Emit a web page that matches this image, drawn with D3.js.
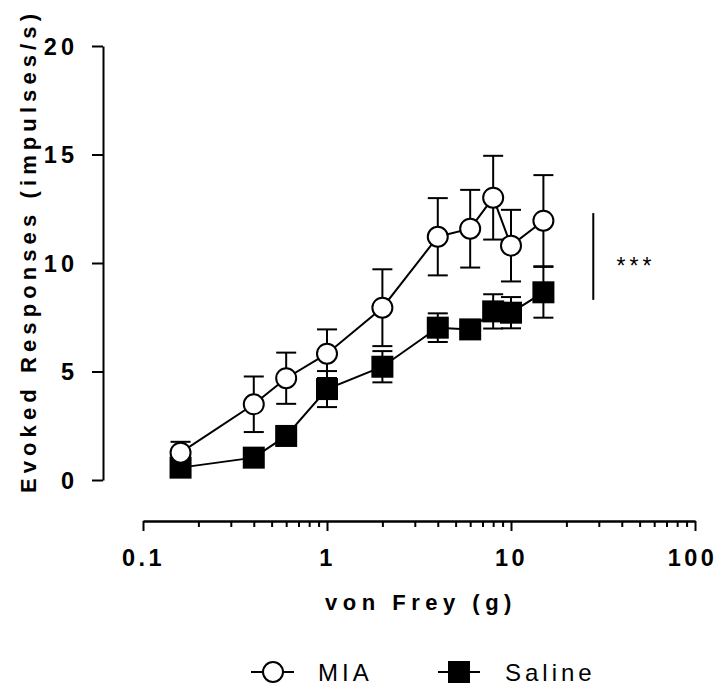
<!DOCTYPE html>
<html>
<head>
<meta charset="utf-8">
<script src="https://cdn.jsdelivr.net/npm/d3@7"></script>
<style>
  html, body { margin: 0; padding: 0; background: #fff; }
  svg { display: block; font-family: "Liberation Sans", Arial, Helvetica, sans-serif; }
</style>
</head>
<body>
<svg id="chart" width="722" height="686"></svg>
<script>
// ---- data ----
const forces = [0.16, 0.4, 0.6, 1, 2, 4, 6, 8, 10, 15];           // von Frey (g)
const miaMean = [1.26, 3.49, 4.69, 5.82, 7.94, 11.21, 11.58, 13.01, 10.80, 11.95];
const miaSem  = [0.50, 1.28, 1.18, 1.12, 1.77, 1.78, 1.79, 1.93, 1.65, 2.10];
const salMean = [0.57, 1.03, 2.03, 4.19, 5.22, 7.02, 6.94, 7.77, 7.71, 8.65];
const salSem  = [0.20, 0.30, 0.30, 0.83, 0.72, 0.66, 0.40, 0.79, 0.72, 1.17];
const yTicks = [0, 5, 10, 15, 20];
const xMajorTicks = [0.1, 1, 10, 100];
const xTickLabels = ["0.1", "1", "10", "100"];
const seriesNames = ["MIA", "Saline"];
const sigBracket = { x: 28, y0: 8.3, y1: 12.3, label: "***", labelX: 46 };

// ---- scales ----
const svg = d3.select("#chart");
const x = d3.scaleLog().domain([0.1, 100]).range([143, 695]);
const y = d3.scaleLinear().domain([0, 20]).range([480, 46]);
const xAxisY = 521, yAxisX = 103;

// ---- y axis ----
const ls = 4;
const gy = svg.append("g").attr("transform", `translate(${yAxisX},0)`)
  .call(d3.axisLeft(y).tickValues(yTicks).tickSize(11).tickSizeOuter(0).tickPadding(18 - ls));
gy.select(".domain").attr("stroke", "#000").attr("stroke-width", 2);
gy.selectAll(".tick line").attr("stroke", "#000").attr("stroke-width", 2);
gy.selectAll(".tick text").attr("font-size", 23.5).attr("font-weight", "bold")
  .attr("letter-spacing", ls + "px").attr("fill", "#000").attr("dy", "0.36em")
  .attr("font-family", "Liberation Sans, Arial, sans-serif");

// ---- x axis ----
const minor = [];
[0.1, 1, 10].forEach(d => { for (let k = 2; k <= 9; k++) minor.push(+(d * k).toPrecision(3)); });
const gxm = svg.append("g").attr("transform", `translate(0,${xAxisY})`)
  .call(d3.axisBottom(x).tickValues(minor).tickSize(6).tickSizeOuter(0).tickFormat(""));
gxm.select(".domain").attr("stroke", "#000").attr("stroke-width", 2);
gxm.selectAll(".tick line").attr("stroke", "#000").attr("stroke-width", 2);
const gx = svg.append("g").attr("transform", `translate(0,${xAxisY})`)
  .call(d3.axisBottom(x).tickValues(xMajorTicks).tickSize(10).tickSizeOuter(0)
    .tickFormat((d, i) => xTickLabels[i]).tickPadding(18));
gx.select(".domain").attr("stroke", "#000").attr("stroke-width", 2);
gx.selectAll(".tick line").attr("stroke", "#000").attr("stroke-width", 2);
gx.selectAll(".tick text").attr("font-size", 23.5).attr("font-weight", "bold")
  .attr("letter-spacing", "3.5px").attr("fill", "#000")
  .attr("font-family", "Liberation Sans, Arial, sans-serif");
// keep the last label inside the frame, as in the reference
gx.selectAll(".tick text").filter((d, i) => i === xTickLabels.length - 1).attr("dx", "-3px");

// ---- axis titles ----
svg.append("text").attr("x", 421).attr("y", 610).attr("text-anchor", "middle")
  .attr("font-size", 22).attr("font-weight", "bold").attr("letter-spacing", "5.5px")
  .text("von Frey (g)");
svg.append("text").attr("transform", "translate(36,251) rotate(-90)").attr("text-anchor", "middle")
  .attr("font-size", 22).attr("font-weight", "bold").attr("letter-spacing", "5.1px")
  .text("Evoked Responses (impulses/s)");

// ---- series ----
function drawSeries(means, sems, kind) {
  const g = svg.append("g");
  const pts = forces.map((f, i) => ({ f, m: means[i], s: sems[i] }));
  g.append("path").datum(pts)
    .attr("d", d3.line().x(d => x(d.f)).y(d => y(d.m)))
    .attr("fill", "none").attr("stroke", "#000").attr("stroke-width", 2);
  const eb = g.selectAll(".eb").data(pts).enter().append("g");
  eb.append("line").attr("x1", d => x(d.f)).attr("x2", d => x(d.f))
    .attr("y1", d => y(d.m - d.s)).attr("y2", d => y(d.m + d.s))
    .attr("stroke", "#000").attr("stroke-width", 2);
  [1, -1].forEach(sgn => {
    eb.append("line").attr("x1", d => x(d.f) - 10).attr("x2", d => x(d.f) + 10)
      .attr("y1", d => y(d.m + sgn * d.s)).attr("y2", d => y(d.m + sgn * d.s))
      .attr("stroke", "#000").attr("stroke-width", 2);
  });
  if (kind === "circle") {
    g.selectAll(".pt").data(pts).enter().append("circle")
      .attr("cx", d => x(d.f)).attr("cy", d => y(d.m)).attr("r", 10)
      .attr("fill", "#fff").attr("stroke", "#000").attr("stroke-width", 2);
  } else {
    g.selectAll(".pt").data(pts).enter().append("rect")
      .attr("x", d => x(d.f) - 11).attr("y", d => y(d.m) - 11)
      .attr("width", 22).attr("height", 22).attr("fill", "#000");
  }
}
drawSeries(salMean, salSem, "square");
drawSeries(miaMean, miaSem, "circle");

// ---- significance ----
svg.append("line").attr("x1", x(sigBracket.x)).attr("x2", x(sigBracket.x))
  .attr("y1", y(sigBracket.y1)).attr("y2", y(sigBracket.y0))
  .attr("stroke", "#000").attr("stroke-width", 2);
svg.append("text").attr("x", x(sigBracket.labelX) + 3).attr("y", 274).attr("text-anchor", "middle")
  .attr("font-size", 23).attr("letter-spacing", "4px").text(sigBracket.label);

// ---- legend ----
const lg = svg.append("g");
const legY = 672;
lg.append("line").attr("x1", 251).attr("x2", 294).attr("y1", legY).attr("y2", legY)
  .attr("stroke", "#000").attr("stroke-width", 2);
lg.append("circle").attr("cx", 273).attr("cy", legY).attr("r", 10)
  .attr("fill", "#fff").attr("stroke", "#000").attr("stroke-width", 2);
lg.append("text").attr("x", 318).attr("y", 681).attr("font-size", 24)
  .attr("letter-spacing", "4px").text(seriesNames[0]);
lg.append("line").attr("x1", 438).attr("x2", 480).attr("y1", legY).attr("y2", legY)
  .attr("stroke", "#000").attr("stroke-width", 2);
lg.append("rect").attr("x", 448).attr("y", legY - 11).attr("width", 22).attr("height", 22).attr("fill", "#000");
lg.append("text").attr("x", 505).attr("y", 681).attr("font-size", 24)
  .attr("letter-spacing", "4px").text(seriesNames[1]);
</script>
</body>
</html>
